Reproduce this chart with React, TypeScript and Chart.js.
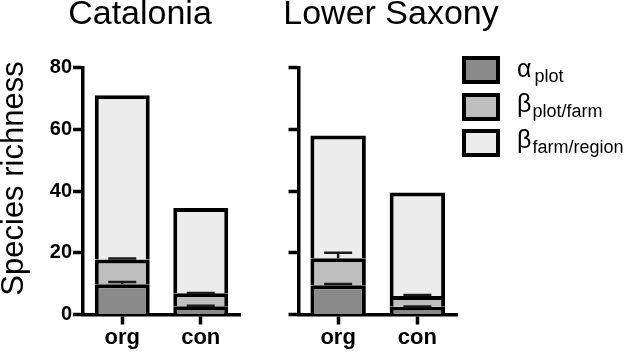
import React, { useEffect, useRef } from 'react';
import { Chart, registerables } from 'chart.js';

Chart.register(...registerables);

const FONT = "'Liberation Sans', Arial, Helvetica, sans-serif";

const categories = ['org', 'con'];
const yTicks = [0, 20, 40, 60, 80];

// Catalonia (segment heights, stacked)
const catAlpha = [9.8, 2.7];
const catBetaPlotFarm = [8.0, 4.2];
const catBetaFarmRegion = [53.2, 27.6];
const catAlphaErr = [0.7, 0.1];
const catBetaErr = [0.3, 0.1];

// Lower Saxony
const lsAlpha = [9.5, 2.5];
const lsBetaPlotFarm = [8.7, 3.5];
const lsBetaFarmRegion = [39.8, 33.5];
const lsAlphaErr = [0.4, 0.1];
const lsBetaErr = [1.8, 0.3];

const seriesSymbols = ['α', 'β', 'β'];
const seriesSubs = ['plot', 'plot/farm', 'farm/region'];
const seriesColors = ['#8a8a8a', '#bebebe', '#ececec'];

type PanelProps = {
  title: string;
  titleX: number;
  alpha: number[];
  betaPF: number[];
  betaFR: number[];
  alphaErr: number[];
  betaErr: number[];
  left: number;
  width: number;
  axisWidth: number;
  rightPad: number;
  showLabels: boolean;
  yTitle?: string;
};

function Panel(p: PanelProps) {
  const ref = useRef<HTMLCanvasElement>(null);
  useEffect(() => {
    if (!ref.current) return;
    const errPlugin = {
      id: 'errbars',
      afterDatasetsDraw(chart: any) {
        const ctx = chart.ctx;
        const ys = chart.scales.y;
        const errs = [p.alphaErr, p.betaErr];
        ctx.save();
        ctx.strokeStyle = '#1a1a1a';
        ctx.lineWidth = 2.5;
        errs.forEach((arr, d) => {
          const meta = chart.getDatasetMeta(d);
          arr.forEach((e, j) => {
            const el = meta.data[j];
            let cum = 0;
            for (let k = 0; k <= d; k++) cum += chart.data.datasets[k].data[j];
            const y0 = ys.getPixelForValue(cum);
            const y1 = ys.getPixelForValue(cum + e);
            ctx.beginPath();
            ctx.moveTo(el.x, y0);
            ctx.lineTo(el.x, y1);
            ctx.moveTo(el.x - 14, y1);
            ctx.lineTo(el.x + 14, y1);
            ctx.stroke();
          });
        });
        ctx.restore();
      },
    };
    const textPlugin = {
      id: 'texts',
      afterDraw(chart: any) {
        const ctx = chart.ctx;
        ctx.save();
        ctx.fillStyle = '#000';
        ctx.textAlign = 'center';
        ctx.textBaseline = 'middle';
        ctx.font = `34px ${FONT}`;
        ctx.fillText(p.title, p.titleX, 15);
        if (p.yTitle) {
          ctx.translate(14.3, 178.5);
          ctx.rotate(-Math.PI / 2);
          ctx.font = `31px ${FONT}`;
          ctx.fillText(p.yTitle, 0, 0);
        }
        ctx.restore();
      },
    };
    const gridOpts = {
      display: true,
      drawOnChartArea: false,
      offset: false,
      drawTicks: true,
      tickLength: 10,
      tickWidth: 3.5,
      tickColor: '#000',
    };
    const borderOpts = { display: true, color: '#000', width: 3.5 };
    const dsCommon = {
      borderColor: '#000',
      borderWidth: 4,
      borderSkipped: 'start' as const,
      categoryPercentage: 0.7,
      barPercentage: 1,
    };
    const chart = new Chart(ref.current, {
      type: 'bar',
      data: {
        labels: categories,
        datasets: [
          { label: 'alpha plot', data: p.alpha, backgroundColor: seriesColors[0], ...dsCommon },
          { label: 'beta plot/farm', data: p.betaPF, backgroundColor: seriesColors[1], ...dsCommon },
          { label: 'beta farm/region', data: p.betaFR, backgroundColor: seriesColors[2], ...dsCommon },
        ],
      },
      options: {
        responsive: false,
        animation: false,
        devicePixelRatio: 1,
        layout: { padding: { left: 0, right: p.rightPad, top: 67.5, bottom: 0 } },
        plugins: {
          legend: { display: false },
          tooltip: { enabled: false },
          title: { display: false },
        },
        scales: {
          x: {
            stacked: true,
            grid: gridOpts,
            border: borderOpts,
            ticks: {
              color: '#000',
              font: { family: FONT, size: 22, weight: 'bold' },
              padding: 0,
              maxRotation: 0,
            },
            afterFit: (s: any) => {
              s.height = 37.5;
            },
          },
          y: {
            stacked: true,
            min: yTicks[0],
            max: yTicks[yTicks.length - 1],
            grid: gridOpts,
            border: borderOpts,
            afterBuildTicks: (s: any) => {
              s.ticks = yTicks.map((v) => ({ value: v }));
            },
            ticks: {
              display: p.showLabels,
              color: '#000',
              font: { family: FONT, size: 20, weight: 'bold' },
              padding: 1,
            },
            afterFit: (s: any) => {
              s.width = p.axisWidth;
            },
          },
        },
      } as any,
      plugins: [errPlugin, textPlugin],
    });
    return () => chart.destroy();
  }, []);
  return (
    <canvas
      ref={ref}
      width={p.width}
      height={352}
      style={{ position: 'absolute', left: p.left, top: 0, width: p.width, height: 352 }}
    />
  );
}

function Legend() {
  const boxTops = [56, 92.5, 129];
  const baselines = [77.5, 112.5, 148.5];
  return (
    <>
      {seriesSymbols.map((sym, i) => (
        <React.Fragment key={i}>
          <div
            style={{
              position: 'absolute',
              left: 462,
              top: boxTops[i],
              width: 38,
              height: 28,
              border: '4px solid #000',
              boxSizing: 'border-box',
              background: seriesColors[i],
            }}
          />
          <div
            style={{
              position: 'absolute',
              left: 517,
              top: baselines[i] - 21.2,
              fontFamily: FONT,
              fontSize: 25,
              lineHeight: '25px',
              whiteSpace: 'nowrap',
              color: '#000',
            }}
          >
            {sym}
            <span style={{ fontSize: 18, position: 'relative', top: 5, marginLeft: i === 0 ? 3 : 1 }}>
              {seriesSubs[i]}
            </span>
          </div>
        </React.Fragment>
      ))}
    </>
  );
}

export default function App() {
  return (
    <div
      style={{
        position: 'absolute',
        left: 0,
        top: 0,
        width: 630,
        height: 352,
        background: '#fff',
        overflow: 'hidden',
      }}
    >
      <Panel
        title="Catalonia"
        titleX={140}
        alpha={catAlpha}
        betaPF={catBetaPlotFarm}
        betaFR={catBetaFarmRegion}
        alphaErr={catAlphaErr}
        betaErr={catBetaErr}
        left={0}
        width={280}
        axisWidth={83}
        rightPad={40}
        showLabels={true}
        yTitle="Species richness"
      />
      <Panel
        title="Lower Saxony"
        titleX={111}
        alpha={lsAlpha}
        betaPF={lsBetaPlotFarm}
        betaFR={lsBetaFarmRegion}
        alphaErr={lsAlphaErr}
        betaErr={lsBetaErr}
        left={280}
        width={222}
        axisWidth={18.5}
        rightPad={45}
        showLabels={false}
      />
      <Legend />
    </div>
  );
}
